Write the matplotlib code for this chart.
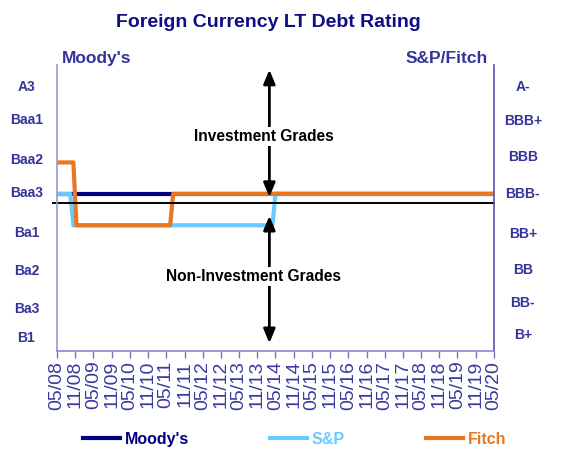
#!/usr/bin/env python3
"""Foreign currency LT debt rating: Moody's vs S&P/Fitch step chart."""

import matplotlib
matplotlib.use("Agg")
import matplotlib.dates as mdates
import matplotlib.pyplot as plt
import numpy as np

plt.rcParams["font.family"] = ["Liberation Sans", "DejaVu Sans"]

# rating scale: 0 = bottom of axis, Baa3/BBB- = 5
moodys_labels = ["A3", "Baa1", "Baa2", "Baa3", "Ba1", "Ba2", "Ba3", "B1"]
sp_labels = ["A-", "BBB+", "BBB", "BBB-", "BB+", "BB", "BB-", "B+"]
moodys_label_pos = [8.41, 7.36, 6.08, 5.03, 3.76, 2.55, 1.34, 0.41]
sp_label_pos = [8.41, 7.32, 6.18, 5.0, 3.73, 2.58, 1.53, 0.51]

moodys_dates = ["2008-05-01", "2020-05-01"]
moodys_vals = [5, 5]

sp_dates = ["2008-05-01", "2008-09-10", "2008-10-12", "2014-04-01",
            "2014-05-01", "2020-05-01"]
sp_vals = [5, 5, 4, 4, 5, 5]

fitch_dates = ["2008-05-01", "2008-10-12", "2008-11-12", "2011-06-10",
               "2011-07-10", "2020-05-01"]
fitch_vals = [6, 6, 4, 4, 5, 5]

THRESHOLD = 4.71

NAVY = "#000080"
SKY = "#66ccff"
ORANGE = "#e87722"
LABEL = "#333399"


def to_dates(lst):
    return np.array(lst, dtype="datetime64[D]")


fig = plt.figure(figsize=(5.72, 4.5), dpi=100)
ax = fig.add_axes([0.0997, 0.22, 0.7639, 0.6356])

ax.plot(to_dates(moodys_dates), moodys_vals, color=NAVY, lw=3, label="Moody's")
ax.plot(to_dates(sp_dates), sp_vals, color=SKY, lw=3, label="S&P")
ax.plot(to_dates(fitch_dates), fitch_vals, color=ORANGE, lw=3, label="Fitch")

# investment grade threshold
ax.axhline(THRESHOLD, xmin=-0.01, xmax=1.0, color="black", lw=1.4, clip_on=False)

ax.set_xlim(np.datetime64("2008-05-01"), np.datetime64("2020-05-01"))
ax.set_ylim(0, 9.1)

ticks = np.arange(np.datetime64("2008-05"), np.datetime64("2020-06"),
                  np.timedelta64(6, "M")).astype("datetime64[D]")
ax.set_xticks(ticks)
ax.xaxis.set_major_formatter(mdates.DateFormatter("%m/%y"))
ax.tick_params(axis="x", direction="out", length=5, width=1, color="#7777bb",
               labelcolor="#3a3aa0", labelsize=14, labelrotation=90, pad=2)
ax.set_yticks([])

ax.spines["top"].set_visible(False)
ax.spines["left"].set_color("#9999cc")
ax.spines["bottom"].set_color("#8888cc")
ax.spines["right"].set_color("#5555aa")
for side in ["left", "bottom", "right"]:
    ax.spines[side].set_linewidth(1.2)

trans_l = ax.get_yaxis_transform()
for lab, pos in zip(moodys_labels, moodys_label_pos):
    ax.text(-0.07, pos, lab, transform=trans_l, ha="center", va="center",
            fontsize=10, fontweight="bold", color=LABEL)
for lab, pos in zip(sp_labels, sp_label_pos):
    ax.text(1.066, pos, lab, transform=trans_l, ha="center", va="center",
            fontsize=10, fontweight="bold", color=LABEL)

# grade arrows
arrow_x = np.datetime64("2014-03-01")
for top, bottom in [(8.95, 4.9), (4.3, 0.25)]:
    ax.annotate("", xy=(arrow_x, top), xytext=(arrow_x, bottom),
                arrowprops=dict(arrowstyle="<|-|>,head_length=0.6,head_width=0.25",
                                color="black", lw=2, shrinkA=0, shrinkB=0,
                                mutation_scale=14))
ax.text(np.datetime64("2014-01-01"), 6.82, "Investment Grades", ha="center",
        va="center", fontsize=11.2, fontweight="bold", color="black",
        bbox=dict(facecolor="white", edgecolor="none", pad=1.5))
ax.text(np.datetime64("2013-09-20"), 2.36, "Non-Investment Grades", ha="center",
        va="center", fontsize=11.2, fontweight="bold", color="black",
        bbox=dict(facecolor="white", edgecolor="none", pad=1.5))

fig.text(0.47, 0.95, "Foreign Currency LT Debt Rating", ha="center", va="center",
         fontsize=14, fontweight="bold", color="#0d0d85")
fig.text(0.108, 0.871, "Moody's", ha="left", va="center", fontsize=12.5,
         fontweight="bold", color=LABEL)
fig.text(0.852, 0.871, "S&P/Fitch", ha="right", va="center", fontsize=12.5,
         fontweight="bold", color=LABEL)

leg = fig.legend(loc="center", bbox_to_anchor=(0.515, 0.024), ncol=3,
                 frameon=False, handlelength=2.3, columnspacing=5.1,
                 handletextpad=0.3, labelcolor="linecolor",
                 prop={"weight": "bold", "size": 11.5})

fig.savefig("out.png", dpi=100)
